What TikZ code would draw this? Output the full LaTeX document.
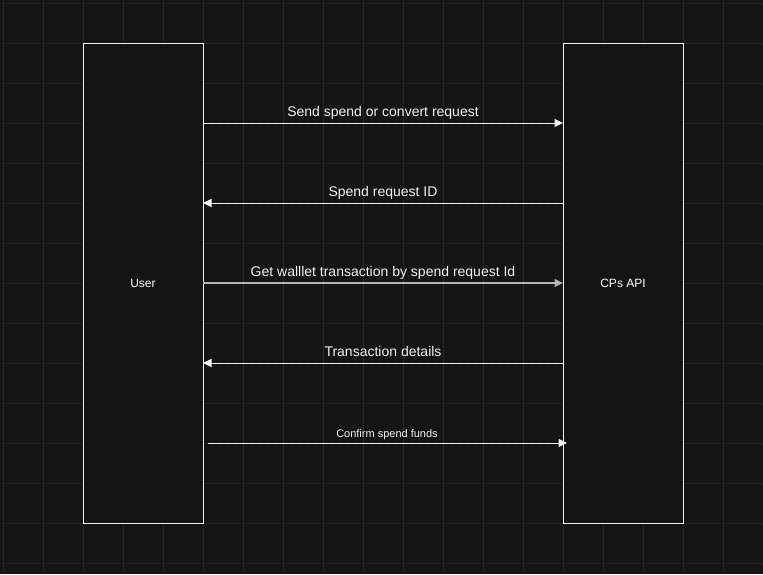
\documentclass[tikz,border=0pt]{standalone}
\usepackage{fontspec}
\setmainfont{Liberation Sans}
\usetikzlibrary{arrows.meta}
\definecolor{bg}{HTML}{141414}
\definecolor{minorgrid}{HTML}{181818}
\definecolor{majorgrid}{HTML}{252525}
\definecolor{fg}{HTML}{F0F0F0}
\definecolor{midgray}{HTML}{B4B4B4}
\begin{document}
\begin{tikzpicture}[x=1pt,y=-1pt,
  actor/.style={draw=fg,line width=1pt,fill=bg,minimum width=120pt,minimum height=480pt,inner sep=0pt,text=white,font=\fontsize{12}{14}\selectfont},
  msg/.style={draw=fg,line width=1pt,-{Triangle[length=8.5pt,width=8pt]}},
  lbl/.style={text=fg,font=\fontsize{14}{16}\selectfont,inner sep=0pt,anchor=base}]
\useasboundingbox (0,0) rectangle (763,574);
\fill[bg] (0,0) rectangle (763,574);
\foreach \i in {0,...,96} {\draw[minorgrid,line width=0.6pt] (3.3+8*\i,0) -- (3.3+8*\i,574);}
\foreach \i in {0,...,72} {\draw[minorgrid,line width=0.6pt] (0,3.3+8*\i) -- (763,3.3+8*\i);}
\foreach \i in {0,...,19} {\draw[majorgrid,line width=1pt] (3.3+40*\i,0) -- (3.3+40*\i,574);}
\foreach \i in {0,...,14} {\draw[majorgrid,line width=1pt] (0,3.3+40*\i) -- (763,3.3+40*\i);}
\node[actor] (user) at (143,283) {User};
\node[actor] (api) at (623,283) {CPs API};
\coordinate (u1) at (203,123); \coordinate (a1) at (563,123);
\coordinate (u2) at (203,203); \coordinate (a2) at (563,203);
\coordinate (u3) at (203,283); \coordinate (a3) at (563,283);
\coordinate (u4) at (203,363); \coordinate (a4) at (563,363);
\coordinate (u5) at (208,443); \coordinate (a5) at (567,443);
\draw[msg] (u1) -- (a1);
\draw[msg] (a2) -- (u2);
\draw[msg,draw=midgray,line width=1.6pt] (u3) -- (a3);
\draw[msg] (a4) -- (u4);
\draw[msg] (u5) -- (a5);
\node[lbl] (t1) at (383,116) {Send spend or convert request};
\node[lbl] (t2) at (383,196) {Spend request ID};
\node[lbl] (t3) at (383,276) {Get walllet transaction by spend request Id};
\node[lbl] (t4) at (383,356) {Transaction details};
\node[lbl,font=\fontsize{11}{13}\selectfont] (t5) at (387,437) {Confirm spend funds};
\end{tikzpicture}
\end{document}
